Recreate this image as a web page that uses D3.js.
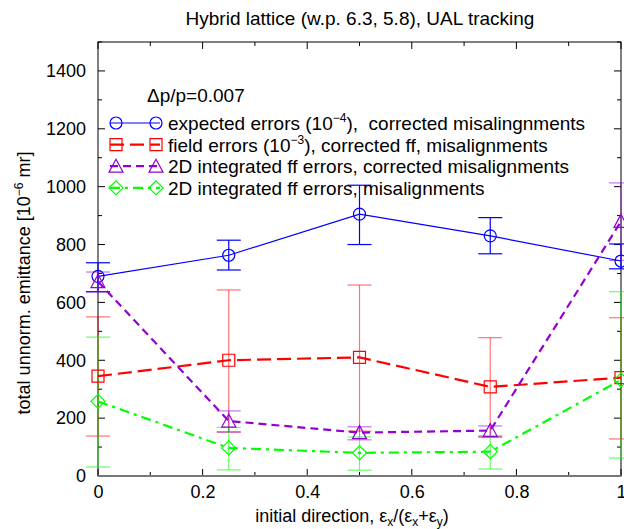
<!DOCTYPE html>
<meta charset="utf-8">
<script src="https://d3js.org/d3.v7.min.js"></script>
<style>
  body { margin: 0; background: #fff; }
  text { font-family: "Liberation Sans", Arial, sans-serif; }
</style>
<div id="my_dataviz"></div>
<script>
// data
var xs = [0, 0.25, 0.5, 0.75, 1];

var expected     = [690, 763, 905, 830, 743];
var expectedLow  = [637, 712, 800, 768, 716];
var expectedHigh = [737, 815, 1005, 893, 802];

var field     = [345, 400, 410, 308, 340];
var fieldLow  = [138, 152, 155, 135, 128];
var fieldHigh = [550, 643, 660, 478, 547];

var corr2D     = [672, 190, 150, 157, 880];
var corr2DLow  = [636, 152, 125, 135, 745];
var corr2DHigh = [705, 225, 170, 173, 1013];

var mis2D     = [258, 97, 80, 84, 332];
var mis2DLow  = [31, 21, 20, 24, 62];
var mis2DHigh = [480, 168, 135, 140, 637];

var xTicks = [0, 0.2, 0.4, 0.6, 0.8, 1];
var yTicks = [0, 200, 400, 600, 800, 1000, 1200, 1400];

var margin = {top: 42, right: 3, bottom: 53, left: 98},
    width = 624 - margin.left - margin.right,
    height = 529 - margin.top - margin.bottom;

var svg = d3.select("#my_dataviz")
  .append("svg")
    .attr("width", 624)
    .attr("height", 529);

var g = svg.append("g")
    .attr("transform", "translate(" + margin.left + "," + margin.top + ")");

var x = d3.scaleLinear().domain([0, 1]).range([0, width]);
var y = d3.scaleLinear().domain([0, 1500]).range([height, 0]);

// ticks (inward, mirrored like gnuplot)
var minorX = d3.range(0, 1.0001, 0.1);
var minorY = d3.range(0, 1501, 100);
minorX.forEach(function(v) {
  var major = xTicks.some(function(t) { return Math.abs(t - v) < 1e-6; });
  var len = major ? 7 : 4;
  g.append("line").attr("x1", x(v)).attr("x2", x(v)).attr("y1", height).attr("y2", height - len).attr("stroke", "#000");
  g.append("line").attr("x1", x(v)).attr("x2", x(v)).attr("y1", 0).attr("y2", len).attr("stroke", "#000");
});
minorY.forEach(function(v) {
  var len = (v % 200 === 0) ? 7 : 4;
  g.append("line").attr("x1", 0).attr("x2", len).attr("y1", y(v)).attr("y2", y(v)).attr("stroke", "#000");
  g.append("line").attr("x1", width).attr("x2", width - len).attr("y1", y(v)).attr("y2", y(v)).attr("stroke", "#000");
});

// tick labels via axes without lines
var xAxis = g.append("g")
  .attr("transform", "translate(0," + height + ")")
  .call(d3.axisBottom(x).tickValues(xTicks).tickSize(0).tickPadding(9)
    .tickFormat(function(d) { return d === 0 || d === 1 ? String(d) : d3.format(".1f")(d); }));
var yAxis = g.append("g")
  .call(d3.axisLeft(y).tickValues(yTicks).tickSize(0).tickPadding(12).tickFormat(d3.format("d")));
[xAxis, yAxis].forEach(function(a) {
  a.select(".domain").remove();
  a.selectAll("text").style("font-size", "18px").attr("fill", "#000").style("font-family", "Liberation Sans, Arial, sans-serif");
});

// frame
g.append("rect").attr("width", width).attr("height", height).attr("fill", "none").attr("stroke", "#000");
g.append("line").attr("x1", 0).attr("x2", width).attr("y1", height).attr("y2", height)
  .attr("stroke", "#777").attr("stroke-width", 2);

var series = [
  {v: expected, lo: expectedLow, hi: expectedHigh, color: "#0000ff", errOp: 1, w: 1.2, dash: null, shape: "circle",
   label: ["expected errors (10", "\u22124", "),\u00a0 corrected misalingnments"]},
  {v: field, lo: fieldLow, hi: fieldHigh, color: "#ff0000", errOp: 0.55, w: 2.2, dash: "14,6", shape: "square",
   label: ["field errors (10", "\u22123", "), corrected ff, misalignments"]},
  {v: corr2D, lo: corr2DLow, hi: corr2DHigh, color: "#9400d3", errOp: 0.55, w: 2.2, dash: "8,5", shape: "triangle",
   label: ["2D integrated ff errors, corrected misalignments"]},
  {v: mis2D, lo: mis2DLow, hi: mis2DHigh, color: "#00ff00", errOp: 0.6, w: 2.2, dash: "10,5,3,5", shape: "diamond",
   label: ["2D integrated ff errors, misalignments"]}
];

function marker(sel, shape, cx, cy, color) {
  var p;
  if (shape === "circle") {
    sel.append("circle").attr("cx", cx).attr("cy", cy).attr("r", 6)
      .attr("fill", "none").attr("stroke", color).attr("stroke-width", 1.2);
    return;
  } else if (shape === "square") {
    p = "M-6,-6H6V6H-6Z";
  } else if (shape === "triangle") {
    p = "M0,-7L7,6H-7Z";
  } else {
    p = "M0,-7L7,0L0,7L-7,0Z";
  }
  sel.append("path").attr("d", p).attr("transform", "translate(" + cx + "," + cy + ")")
    .attr("fill", "none").attr("stroke", color).attr("stroke-width", 1.2);
}

var line = d3.line().x(function(d) { return x(d[0]); }).y(function(d) { return y(d[1]); });

series.forEach(function(s) {
  var eg = g.append("g").attr("stroke", s.color).attr("stroke-opacity", s.errOp).attr("stroke-width", 1.2);
  xs.forEach(function(xv, i) {
    eg.append("line").attr("x1", x(xv)).attr("x2", x(xv)).attr("y1", y(s.lo[i])).attr("y2", y(s.hi[i]));
    eg.append("line").attr("x1", x(xv) - 12).attr("x2", x(xv) + 12).attr("y1", y(s.lo[i])).attr("y2", y(s.lo[i]));
    eg.append("line").attr("x1", x(xv) - 12).attr("x2", x(xv) + 12).attr("y1", y(s.hi[i])).attr("y2", y(s.hi[i]));
  });
});

series.forEach(function(s) {
  g.append("path").datum(xs.map(function(xv, i) { return [xv, s.v[i]]; }))
    .attr("d", line).attr("fill", "none").attr("stroke", s.color)
    .attr("stroke-width", s.w).attr("stroke-dasharray", s.dash);
  xs.forEach(function(xv, i) { marker(g, s.shape, x(xv), y(s.v[i]), s.color); });
});

// legend
svg.append("text").attr("x", 147).attr("y", 102).style("font-size", "19px").text("\u0394p/p=0.007");
series.forEach(function(s, i) {
  var ly = 123 + i * 21.6;
  svg.append("line").attr("x1", 110).attr("x2", 160).attr("y1", ly).attr("y2", ly)
    .attr("stroke", s.color).attr("stroke-width", s.w).attr("stroke-dasharray", s.dash);
  marker(svg, s.shape, 116, ly, s.color);
  marker(svg, s.shape, 156, ly, s.color);
  var t = svg.append("text").attr("x", 168).attr("y", ly + 7).style("font-size", "19px");
  t.append("tspan").text(s.label[0]);
  if (s.label.length > 1) {
    t.append("tspan").attr("dy", -8).style("font-size", "12px").text(s.label[1]);
    t.append("tspan").attr("dy", 8).text(s.label[2]);
  }
});

// title
svg.append("text").attr("x", 360).attr("y", 25).attr("text-anchor", "middle")
  .style("font-size", "19px").text("Hybrid lattice (w.p. 6.3, 5.8), UAL tracking");

// x label
var xl = svg.append("text").attr("x", 352).attr("y", 522).attr("text-anchor", "middle").style("font-size", "18px");
xl.append("tspan").text("initial direction, \u03b5");
xl.append("tspan").attr("dy", 4).style("font-size", "12px").text("x");
xl.append("tspan").attr("dy", -4).text("/(\u03b5");
xl.append("tspan").attr("dy", 4).style("font-size", "12px").text("x");
xl.append("tspan").attr("dy", -4).text("+\u03b5");
xl.append("tspan").attr("dy", 4).style("font-size", "12px").text("y");
xl.append("tspan").attr("dy", -4).text(")");

// y label
var yl = svg.append("text").attr("transform", "translate(30,283) rotate(-90)").attr("text-anchor", "middle").style("font-size", "18px");
yl.append("tspan").text("total unnorm. emittance [10");
yl.append("tspan").attr("dy", -7).style("font-size", "12px").text("\u22126");
yl.append("tspan").attr("dy", 7).text(" mr]");
</script>
